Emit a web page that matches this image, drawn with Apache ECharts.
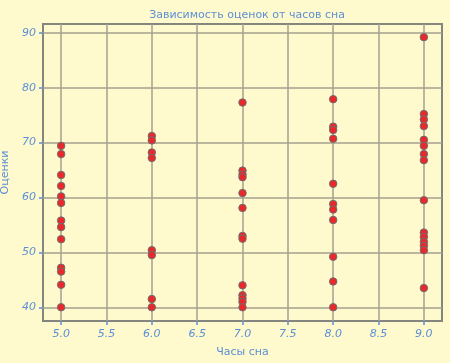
<!DOCTYPE html>
<html><head><meta charset="utf-8">
<script src="https://cdn.jsdelivr.net/npm/echarts@6/dist/echarts.min.js"></script>
<style>html,body{margin:0;padding:0;background:#fffacd;}#c{width:450px;height:363px;}</style>
</head><body><div id="c"></div>
<script>
const hours = [5.0, 6.0, 7.0, 8.0, 9.0];
const scores5 = [69.4, 67.9, 64.1, 62.1, 60.2, 59.0, 55.8, 54.6, 52.4, 47.2, 46.5, 44.1, 40.0];
const scores6 = [71.2, 70.4, 68.2, 67.2, 50.4, 49.5, 41.5, 40.0];
const scores7 = [77.3, 64.9, 64.2, 63.7, 60.8, 58.1, 53.0, 52.5, 44.0, 42.2, 41.6, 41.0, 40.0];
const scores8 = [77.9, 72.9, 72.3, 70.7, 62.5, 58.8, 57.8, 55.9, 49.2, 44.7, 40.0];
const scores9 = [89.2, 75.2, 74.2, 73.0, 70.5, 69.4, 67.9, 66.8, 59.5, 53.6, 52.8, 51.9, 51.2, 50.4, 43.5];
const xTicks = [5.0, 5.5, 6.0, 6.5, 7.0, 7.5, 8.0, 8.5, 9.0];
const yTicks = [40, 50, 60, 70, 80, 90];
const title = 'Зависимость оценок от часов сна';
const xName = 'Часы сна';
const yName = 'Оценки';

const allScores = [scores5, scores6, scores7, scores8, scores9];
const points = [];
allScores.forEach((arr, i) => arr.forEach(v => points.push([hours[i], v])));

const txt = '#5b8fd6';
const gridCol = '#a3a08e';
const font = '"DejaVu Sans", sans-serif';

const chart = echarts.init(document.getElementById('c'), null, {renderer: 'canvas'});
chart.setOption({
  backgroundColor: '#fffacd',
  animation: false,
  title: {text: title, left: 242, top: 5, textAlign: 'center',
    textStyle: {color: txt, fontSize: 11, fontWeight: 'normal', fontFamily: font}},
  grid: {left: 43, right: 8, top: 24, bottom: 42, show: true, backgroundColor: 'transparent',
    borderColor: '#858580', borderWidth: 2, containLabel: false, outerBoundsMode: 'none'},
  xAxis: {type: 'value', min: 4.8, max: 9.2,
    name: xName, nameLocation: 'middle', nameGap: 26,
    nameTextStyle: {color: txt, fontSize: 11, fontFamily: font},
    axisLine: {show: true, lineStyle: {color: '#858580', width: 2}},
    axisTick: {show: true, customValues: xTicks, length: 4, lineStyle: {color: txt, width: 1.5}},
    axisLabel: {customValues: xTicks, color: txt, fontSize: 11, fontFamily: font, fontStyle: 'italic', margin: 8,
      formatter: v => v.toFixed(1)},
    splitLine: {show: false}},
  yAxis: {type: 'value', min: 37.5, max: 91.6,
    name: yName, nameLocation: 'middle', nameGap: 27, nameRotate: 90,
    nameTextStyle: {color: txt, fontSize: 11, fontFamily: font},
    axisLine: {show: true, lineStyle: {color: '#858580', width: 2}},
    axisTick: {show: true, customValues: yTicks, length: 4, lineStyle: {color: txt, width: 1.5}},
    axisLabel: {customValues: yTicks, color: txt, fontSize: 11, fontFamily: font, fontStyle: 'italic', margin: 7},
    splitLine: {show: false}},
  series: [{
    type: 'scatter', data: points, symbolSize: 7.5,
    itemStyle: {color: '#e8282a', borderColor: '#707070', borderWidth: 1, opacity: 1},
    z: 5,
    markLine: {silent: true, symbol: 'none', label: {show: false},
      lineStyle: {color: gridCol, width: 1.5, type: 'solid'},
      data: xTicks.map(v => ({xAxis: v})).concat(yTicks.map(v => ({yAxis: v}))),
      z: 1}
  }]
});
</script></body></html>
